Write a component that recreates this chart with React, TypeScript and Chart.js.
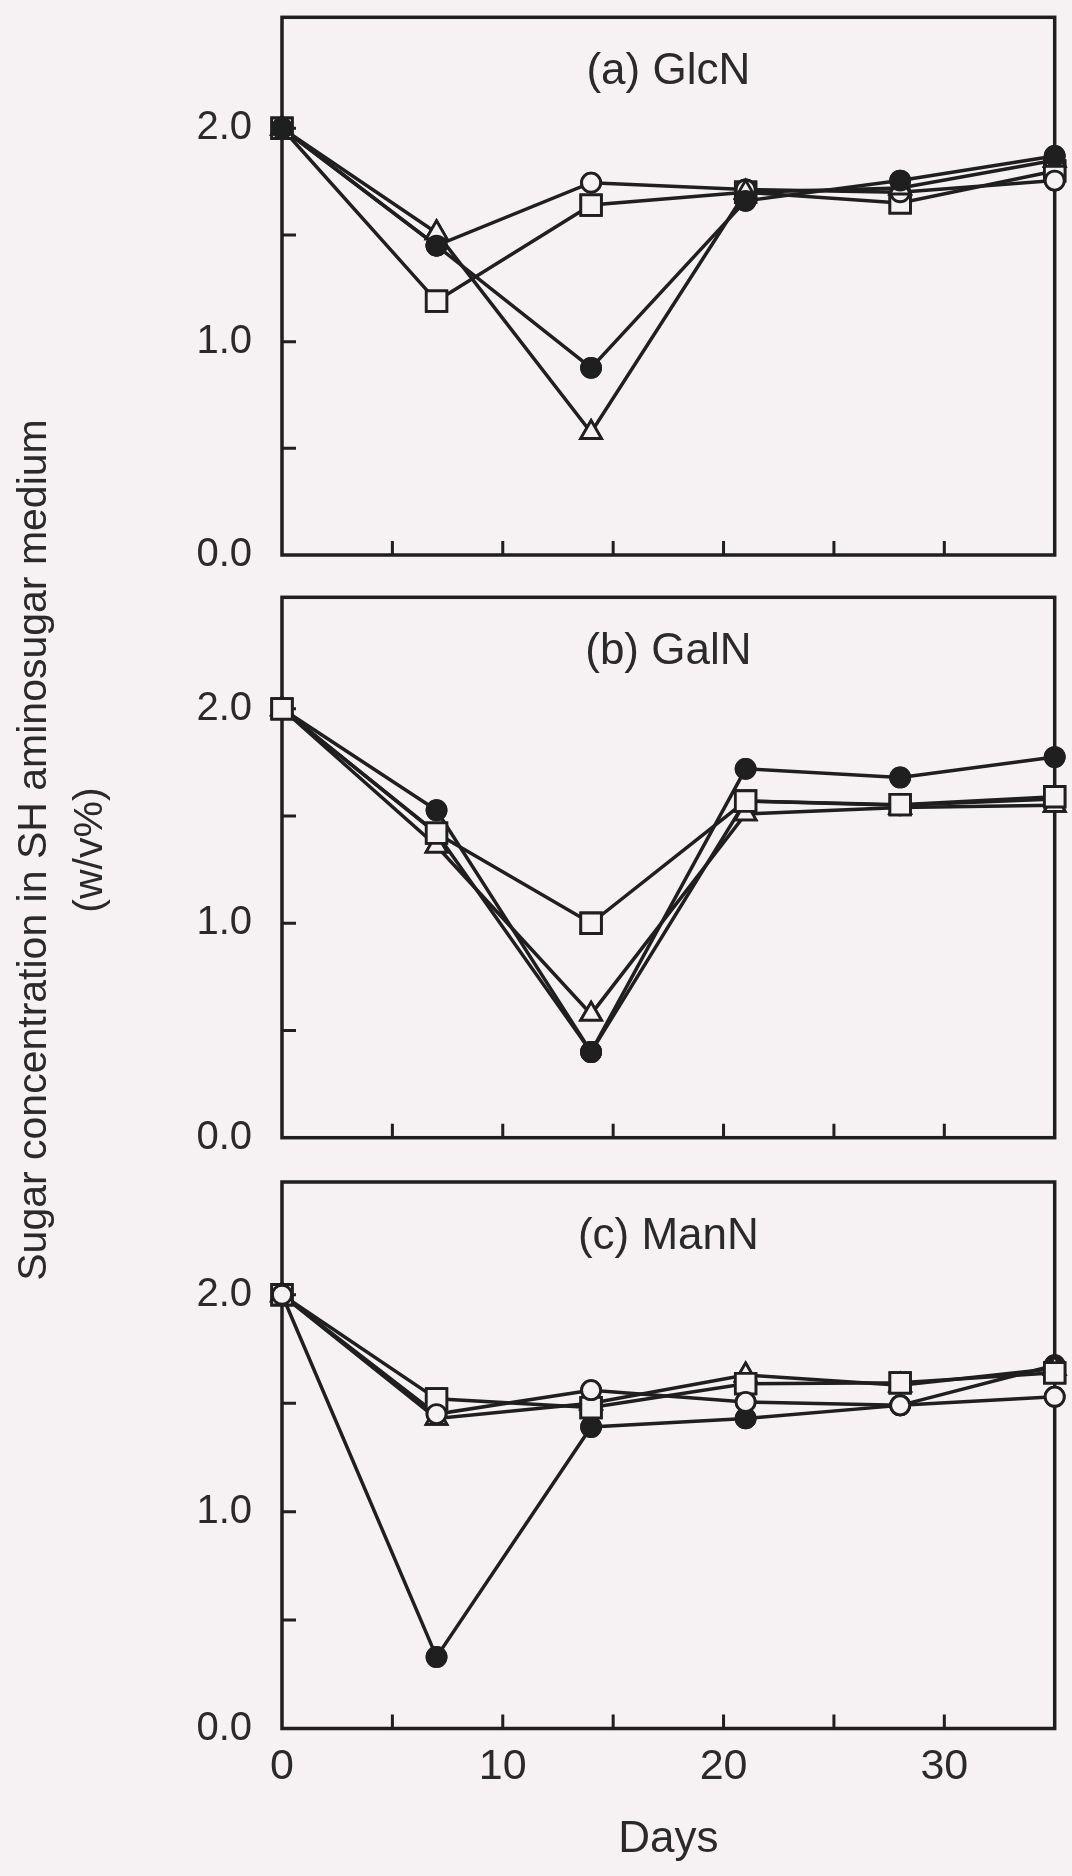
import React, { useEffect, useRef } from "react";
import { Chart, registerables } from "chart.js";

Chart.register(...registerables);

// Sampling days (x values shared by every series)
const days = [0, 7, 14, 21, 28, 35];

// (a) GlcN
const glcnOpenCircle = [2.0, 1.45, 1.745, 1.713, 1.7, 1.755];
const glcnFilledCircle = [2.0, 1.45, 0.877, 1.66, 1.755, 1.87];
const glcnTriangle = [2.0, 1.51, 0.574, 1.7, 1.72, 1.85];
const glcnSquare = [2.0, 1.19, 1.64, 1.7, 1.65, 1.8];

// (b) GalN
const galnFilledCircle = [2.0, 1.527, 0.4, 1.72, 1.68, 1.775];
const galnSquare = [2.0, 1.42, 1.0, 1.57, 1.553, 1.59];
const galnTriangle = [2.0, 1.36, 0.576, 1.51, 1.54, 1.55];
const galnOpenCircle = [2.0, 1.42, 0.4, 1.57, 1.55, 1.58];

// (c) ManN
const mannOpenCircle = [2.0, 1.45, 1.56, 1.506, 1.49, 1.53];
const mannSquare = [2.0, 1.52, 1.48, 1.59, 1.594, 1.64];
const mannTriangle = [2.0, 1.43, 1.5, 1.63, 1.583, 1.66];
const mannFilledCircle = [2.0, 0.33, 1.39, 1.43, 1.49, 1.675];

// Axis ticks
const yTickValues = [0, 0.5, 1, 1.5, 2];
const yLabelValues = [0, 1, 2];
const xTickMarks = [5, 10, 15, 20, 25, 30];
const xLabelValues = [0, 10, 20, 30];
const panelTitles = ["(a) GlcN", "(b) GalN", "(c) ManN"];
const xAxisTitle = "Days";
const yAxisTitle = ["Sugar concentration in SH aminosugar medium", "(w/v%)"];

const INK = "#1f1f1f";
const PAPER = "#f6f1f2";
const TEXT = "#2a2a2a";
const FONT = "'Liberation Sans', Arial, Helvetica, sans-serif";

type Kind = "open" | "filled" | "triangle" | "square";

function makeDataset(kind: Kind, values: number[], order: number) {
  const style = kind === "triangle" ? "triangle" : kind === "square" ? "rect" : "circle";
  const radius = kind === "triangle" ? 12 : kind === "square" ? 14.5 : 9.5;
  return {
    data: days.map((d, i) => ({ x: d, y: values[i] })),
    order,
    borderColor: INK,
    borderWidth: 3.5,
    pointStyle: style,
    pointRadius: radius,
    pointBorderWidth: 2.8,
    pointBorderColor: INK,
    pointBackgroundColor: kind === "filled" ? INK : PAPER,
    clip: false,
    tension: 0,
    fill: false,
  };
}

type PanelCfg = {
  title: string;
  top: number;
  height: number;
  plotTop: number;
  plotBottom: number;
  showX: boolean;
  series: [Kind, number[]][]; // first entry is drawn on top
};

const panels: PanelCfg[] = [
  {
    title: panelTitles[0],
    top: 0,
    height: 575,
    plotTop: 15,
    plotBottom: 555,
    showX: false,
    series: [
      ["filled", glcnFilledCircle],
      ["triangle", glcnTriangle],
      ["open", glcnOpenCircle],
      ["square", glcnSquare],
    ],
  },
  {
    title: panelTitles[1],
    top: 580,
    height: 575,
    plotTop: 596,
    plotBottom: 1142,
    showX: false,
    series: [
      ["square", galnSquare],
      ["filled", galnFilledCircle],
      ["triangle", galnTriangle],
      ["open", galnOpenCircle],
    ],
  },
  {
    title: panelTitles[2],
    top: 1160,
    height: 716,
    plotTop: 1182,
    plotBottom: 1728.5,
    showX: true,
    series: [
      ["open", mannOpenCircle],
      ["square", mannSquare],
      ["triangle", mannTriangle],
      ["filled", mannFilledCircle],
    ],
  },
];

// Frame, inward tick marks, panel caption; markers re-drawn above every line
const panelDecor = {
  id: "panelDecor",
  beforeDatasetsDraw(chart: any, _args: any, opts: any) {
    const { ctx, chartArea: a, scales } = chart;
    ctx.save();
    ctx.strokeStyle = INK;
    ctx.lineWidth = 3.5;
    ctx.strokeRect(a.left, a.top, a.right - a.left, a.bottom - a.top);
    ctx.lineWidth = 3;
    ctx.beginPath();
    for (const v of yTickValues) {
      if (v === 0) continue;
      const y = scales.y.getPixelForValue(v);
      ctx.moveTo(a.left, y);
      ctx.lineTo(a.left + 14, y);
    }
    for (const v of xTickMarks) {
      const x = scales.x.getPixelForValue(v);
      ctx.moveTo(x, a.bottom);
      ctx.lineTo(x, a.bottom - 14);
    }
    ctx.stroke();
    ctx.fillStyle = TEXT;
    ctx.font = `44px ${FONT}`;
    ctx.textAlign = "center";
    ctx.textBaseline = "alphabetic";
    ctx.fillText(opts.title, (a.left + a.right) / 2, a.top + 67);
    ctx.restore();
  },
  afterDatasetsDraw(chart: any) {
    const metas = chart.getSortedVisibleDatasetMetas();
    for (let i = metas.length - 1; i >= 0; i--) {
      for (const el of metas[i].data) el.draw(chart.ctx, chart.chartArea);
    }
  },
};

function Panel({ cfg }: { cfg: PanelCfg }) {
  const ref = useRef<HTMLCanvasElement>(null);

  useEffect(() => {
    const padTop = cfg.plotTop - cfg.top;
    const xHeight = cfg.top + cfg.height - cfg.plotBottom;
    const chart = new Chart(ref.current as HTMLCanvasElement, {
      type: "line",
      data: {
        datasets: cfg.series.map(([kind, values], i) => makeDataset(kind, values, i)) as any,
      },
      options: {
        animation: false,
        responsive: false,
        maintainAspectRatio: false,
        devicePixelRatio: 1,
        events: [],
        layout: { padding: { top: padTop, right: 13, left: 0, bottom: 0 } },
        plugins: {
          legend: { display: false },
          tooltip: { enabled: false },
          panelDecor: { title: cfg.title },
        } as any,
        scales: {
          x: {
            type: "linear",
            min: 0,
            max: 35,
            grid: { display: false, drawTicks: false },
            border: { display: false },
            afterBuildTicks: (s: any) => {
              s.ticks = xLabelValues.map((v) => ({ value: v }));
            },
            afterFit: (s: any) => {
              s.height = xHeight;
              s.paddingLeft = 0;
              s.paddingRight = 0;
              s.paddingTop = 0;
              s.paddingBottom = 0;
            },
            ticks: {
              display: cfg.showX,
              autoSkip: false,
              maxRotation: 0,
              padding: 13,
              color: TEXT,
              font: { family: FONT, size: 43 },
              callback: (v: any) => String(v),
            },
            title: {
              display: cfg.showX,
              text: xAxisTitle,
              color: TEXT,
              font: { family: FONT, size: 44 },
              padding: { top: 0, bottom: 10 },
            },
          },
          y: {
            type: "linear",
            min: 0,
            max: 2.52,
            grid: { display: false, drawTicks: false },
            border: { display: false },
            afterBuildTicks: (s: any) => {
              s.ticks = yTickValues.map((v) => ({ value: v }));
            },
            afterFit: (s: any) => {
              s.width = 282;
              s.paddingLeft = 0;
              s.paddingRight = 0;
              s.paddingTop = 0;
              s.paddingBottom = 0;
            },
            ticks: {
              autoSkip: false,
              padding: 30,
              color: TEXT,
              font: { family: FONT, size: 40 },
              callback: (v: any) => (yLabelValues.includes(Number(v)) ? Number(v).toFixed(1) : ""),
            },
          },
        },
      },
      plugins: [panelDecor],
    } as any);
    return () => chart.destroy();
  }, [cfg]);

  return (
    <canvas
      ref={ref}
      width={1072}
      height={cfg.height}
      style={{ position: "absolute", left: 0, top: cfg.top, width: 1072, height: cfg.height }}
    />
  );
}

export default function App() {
  return (
    <div
      style={{
        position: "absolute",
        left: 0,
        top: 0,
        width: 1072,
        height: 1876,
        overflow: "hidden",
        background: PAPER,
      }}
    >
      {panels.map((p) => (
        <Panel key={p.title} cfg={p} />
      ))}
      <div
        style={{
          position: "absolute",
          left: 60 - 500,
          top: 850 - 56,
          width: 1000,
          height: 112,
          transform: "rotate(-90deg)",
          transformOrigin: "50% 50%",
          textAlign: "center",
          font: `41px/56px ${FONT}`,
          color: TEXT,
          whiteSpace: "nowrap",
        }}
      >
        <div>{yAxisTitle[0]}</div>
        <div>{yAxisTitle[1]}</div>
      </div>
    </div>
  );
}
